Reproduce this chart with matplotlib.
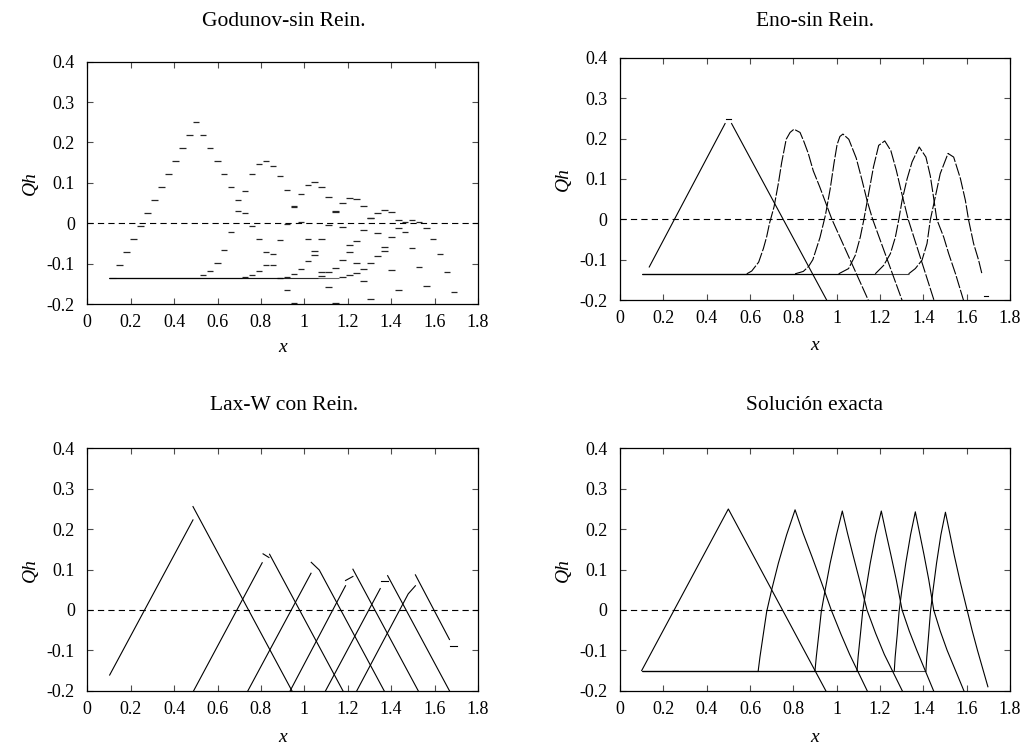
import matplotlib.pyplot as plt
from matplotlib.ticker import FormatStrFormatter

plt.rcParams['font.family'] = ['Liberation Serif', 'DejaVu Serif']
plt.rcParams['axes.unicode_minus'] = False
plt.rcParams['lines.scale_dashes'] = False

# ---------------- data ----------------
x_ticks = [0, 0.2, 0.4, 0.6, 0.8, 1.0, 1.2, 1.4, 1.6, 1.8]
y_ticks = [-0.2, -0.1, 0, 0.1, 0.2, 0.3, 0.4]

# Godunov: cell centres and cell averages (first cell index, values)
cells = [0.117, 0.149, 0.181, 0.213, 0.245, 0.278, 0.310, 0.342, 0.374, 0.406,
         0.438, 0.470, 0.502, 0.534, 0.566, 0.599, 0.631, 0.663, 0.695, 0.727,
         0.759, 0.791, 0.823, 0.855, 0.887, 0.920, 0.952, 0.984, 1.016, 1.048,
         1.080, 1.112, 1.144, 1.176, 1.208, 1.241, 1.273, 1.305, 1.337, 1.369,
         1.401, 1.433, 1.465, 1.497, 1.529, 1.562, 1.594, 1.626, 1.658, 1.690]
god_base = -0.135
god_start = [1, 13, 19, 25, 30, 33]
god_q0 = [-0.102, -0.070, -0.038, -0.006, 0.026, 0.058, 0.091, 0.122, 0.154, 0.186,
          0.219, 0.251, 0.219, 0.186, 0.154, 0.122, 0.091, 0.058, 0.026, -0.006,
          -0.038, -0.070, -0.102, -0.135, -0.166, -0.198]
god_q1 = [-0.129, -0.118, -0.099, -0.066, -0.021, 0.031, 0.081, 0.122, 0.147, 0.154,
          0.142, 0.117, 0.083, 0.043, 0.002, -0.039, -0.078, -0.120, -0.158, -0.198]
god_q2 = [-0.132, -0.129, -0.119, -0.102, -0.077, -0.042, -0.001, 0.040, 0.073, 0.095,
          0.101, 0.091, 0.066, 0.027, -0.009, -0.054, -0.099, -0.144, -0.188]
god_q3 = [-0.132, -0.125, -0.112, -0.094, -0.069, -0.038, -0.003, 0.031, 0.051, 0.062,
          0.059, 0.043, 0.012, -0.024, -0.068, -0.115, -0.164]
god_q4 = [-0.131, -0.121, -0.110, -0.092, -0.070, -0.044, -0.017, 0.012, 0.026, 0.033,
          0.027, 0.008, -0.021, -0.061, -0.107, -0.156]
god_q5 = [-0.132, -0.128, -0.122, -0.113, -0.099, -0.081, -0.059, -0.035, -0.012, 0.002,
          0.009, 0.004, -0.011, -0.039, -0.076, -0.120, -0.170]

# ENO
eno_base = -0.135
eno_feet = [0.585, 0.808, 1.009, 1.178, 1.332]
eno_x0a = [0.135, 0.485]
eno_y0a = [-0.118, 0.237]
eno_x0b = [0.515, 0.960]
eno_y0b = [0.237, -0.206]
eno_x1 = [0.585, 0.608, 0.640, 0.662, 0.677, 0.690, 0.711, 0.731, 0.746, 0.767, 0.785,
          0.803, 0.831, 0.849, 0.869, 0.892, 0.922, 0.950, 0.978, 1.150]
eno_y1 = [-0.135, -0.128, -0.106, -0.072, -0.043, -0.010, 0.031, 0.089, 0.140, 0.198, 0.215,
          0.223, 0.215, 0.192, 0.163, 0.120, 0.080, 0.040, 0.000, -0.205]
eno_x2 = [0.808, 0.846, 0.870, 0.890, 0.923, 0.948, 0.970, 0.988, 1.002, 1.015, 1.029,
          1.056, 1.090, 1.117, 1.140, 1.166, 1.305]
eno_y2 = [-0.135, -0.129, -0.117, -0.100, -0.045, 0.010, 0.075, 0.140, 0.185, 0.205, 0.211,
          0.198, 0.152, 0.097, 0.047, 0.000, -0.205]
eno_x3 = [1.009, 1.055, 1.086, 1.109, 1.125, 1.148, 1.170, 1.194, 1.222,
          1.250, 1.275, 1.300, 1.330, 1.452]
eno_y3 = [-0.135, -0.122, -0.089, -0.044, -0.002, 0.065, 0.130, 0.183, 0.194,
          0.170, 0.122, 0.065, 0.000, -0.205]
eno_x4 = [1.178, 1.217, 1.248, 1.271, 1.287, 1.302, 1.325, 1.348, 1.381,
          1.412, 1.432, 1.447, 1.462, 1.494, 1.517, 1.548, 1.588]
eno_y4 = [-0.135, -0.114, -0.085, -0.044, 0.000, 0.047, 0.100, 0.142, 0.179,
          0.154, 0.108, 0.055, 0.000, -0.044, -0.085, -0.134, -0.205]
eno_x5 = [1.332, 1.363, 1.394, 1.417, 1.432, 1.455, 1.478, 1.514,
          1.540, 1.571, 1.594, 1.609, 1.632, 1.655, 1.670]
eno_y5 = [-0.135, -0.122, -0.101, -0.060, -0.002, 0.055, 0.113, 0.163,
          0.154, 0.101, 0.047, -0.002, -0.060, -0.101, -0.134]
eno_ticks_x = [(0.490, 0.510), (1.678, 1.698)]
eno_ticks_y = [0.249, -0.190]

# Lax-Wendroff with reinitialisation: pieces of each profile
lax_pieces = [
    ([0.103, 0.487], [-0.161, 0.223]),
    ([0.487, 0.953], [0.256, -0.210]),
    ([0.480, 0.806], [-0.210, 0.117]),
    ([0.810, 0.837], [0.139, 0.130]),
    ([0.840, 1.188], [0.138, -0.210]),
    ([0.730, 1.031], [-0.210, 0.091]),
    ([1.032, 1.069, 1.378], [0.118, 0.099, -0.210]),
    ([0.925, 1.190], [-0.210, 0.060]),
    ([1.190, 1.224], [0.073, 0.083]),
    ([1.224, 1.535], [0.101, -0.210]),
    ([1.088, 1.350], [-0.210, 0.053]),
    ([1.352, 1.384], [0.071, 0.071]),
    ([1.384, 1.679], [0.085, -0.210]),
    ([1.232, 1.479, 1.512], [-0.210, 0.040, 0.060]),
    ([1.512, 1.669], [0.087, -0.073]),
    ([1.673, 1.704], [-0.088, -0.088]),
]

# exact solution
ex_base = -0.15
ex_feet = [0.100, 0.638, 0.900, 1.094, 1.266, 1.412]
ex_x0 = [0.100, 0.500, 0.960]
ex_y0 = [-0.150, 0.250, -0.210]
ex_x1 = [0.638, 0.646, 0.662, 0.677, 0.700, 0.731, 0.769, 0.808,
         0.845, 0.886, 0.930, 0.975, 1.020, 1.060, 1.150]
ex_y1 = [-0.150, -0.116, -0.058, -0.004, 0.050, 0.116, 0.186, 0.248,
         0.190, 0.132, 0.068, 0.000, -0.060, -0.110, -0.210]
ex_x2 = [0.900, 0.906, 0.918, 0.929, 0.947, 0.970, 0.999, 1.026,
         1.050, 1.075, 1.105, 1.140, 1.180, 1.220, 1.312]
ex_y2 = [-0.150, -0.116, -0.058, -0.004, 0.050, 0.116, 0.186, 0.245,
         0.190, 0.137, 0.075, 0.000, -0.058, -0.110, -0.210]
ex_x3 = [1.094, 1.099, 1.110, 1.120, 1.135, 1.155, 1.180, 1.206,
         1.228, 1.250, 1.275, 1.302, 1.335, 1.370, 1.455]
ex_y3 = [-0.150, -0.116, -0.058, -0.004, 0.050, 0.116, 0.186, 0.245,
         0.190, 0.137, 0.075, 0.000, -0.052, -0.100, -0.210]
ex_x4 = [1.266, 1.270, 1.280, 1.288, 1.301, 1.319, 1.341, 1.363,
         1.383, 1.403, 1.425, 1.448, 1.478, 1.510, 1.595]
ex_y4 = [-0.150, -0.116, -0.058, -0.004, 0.050, 0.116, 0.186, 0.243,
         0.190, 0.137, 0.075, 0.000, -0.052, -0.100, -0.210]
ex_x5 = [1.412, 1.416, 1.425, 1.433, 1.445, 1.461, 1.481, 1.502,
         1.522, 1.542, 1.570, 1.602, 1.625, 1.650, 1.698]
ex_y5 = [-0.150, -0.116, -0.058, -0.004, 0.050, 0.116, 0.186, 0.242,
         0.190, 0.137, 0.070, 0.000, -0.050, -0.100, -0.190]

titles = ['Godunov-sin Rein.', 'Eno-sin Rein.', 'Lax-W con Rein.', 'Solución exacta']

# ---------------- figure ----------------
W, H = 1031, 749
fig = plt.figure(figsize=(W / 100, H / 100), dpi=100)


def rect(left, top, right, bottom):
    return [left / W, 1 - bottom / H, (right - left) / W, (bottom - top) / H]


boxes = [rect(87.3, 61.7, 477.9, 304.1), rect(620, 57.7, 1010, 300.1),
         rect(87.3, 448.4, 477.9, 690.8), rect(620, 448.4, 1010, 690.8)]
axes = [fig.add_axes(b) for b in boxes]

LW = 0.8
for ax in axes:
    ax.set_xlim(0, 1.8)
    ax.set_ylim(-0.2, 0.4)
    ax.set_xticks(x_ticks)
    ax.set_yticks(y_ticks)
    ax.xaxis.set_major_formatter(FormatStrFormatter('%g'))
    ax.yaxis.set_major_formatter(FormatStrFormatter('%g'))
    ax.tick_params(direction='in', top=True, right=True, length=4.5, width=0.8,
                   labelsize=13, color='0.3')
    ax.tick_params(axis='x', pad=7)
    ax.tick_params(axis='y', pad=9)
    for s in ax.spines.values():
        s.set_linewidth(0.9)
    ax.axhline(0, color='k', lw=LW, dashes=(4.5, 3))

# Godunov
ax = axes[0]
hw = 0.015
for start, q in zip(god_start, [god_q0, god_q1, god_q2, god_q3, god_q4, god_q5]):
    ax.hlines(god_base, 0.101, cells[start] - 0.016, color='k', lw=LW, alpha=0.6)
    xs = cells[start:start + len(q)]
    ax.hlines(q, [c - hw for c in xs], [c + hw for c in xs], color='0.15', lw=0.9)

# ENO
ax = axes[1]
for f in eno_feet:
    ax.hlines(eno_base, 0.1, f, color='k', lw=LW, alpha=0.75)
ax.plot(eno_x0a, eno_y0a, color='k', lw=LW)
ax.plot(eno_x0b, eno_y0b, color='k', lw=LW)
for xs, ys in [(eno_x1, eno_y1), (eno_x2, eno_y2), (eno_x3, eno_y3),
               (eno_x4, eno_y4), (eno_x5, eno_y5)]:
    ax.plot(xs, ys, color='k', lw=LW, dashes=(9, 1.3))
for xs, y in zip(eno_ticks_x, eno_ticks_y):
    ax.plot(xs, [y, y], color='k', lw=LW)

# Lax-Wendroff
ax = axes[2]
for xs, ys in lax_pieces:
    ax.plot(xs, ys, color='k', lw=LW)

# exact
ax = axes[3]
for f in ex_feet:
    ax.hlines(ex_base, 0.1, f, color='k', lw=LW, alpha=0.75)
for xs, ys in [(ex_x0, ex_y0), (ex_x1, ex_y1), (ex_x2, ex_y2), (ex_x3, ex_y3),
               (ex_x4, ex_y4), (ex_x5, ex_y5)]:
    ax.plot(xs, ys, color='k', lw=LW)

# titles and axis labels
title_pos = [(284, 22), (815, 22), (284, 405), (815, 405)]
xlabel_pos = [(283, 348), (815, 346), (283, 738), (815, 738)]
ylabel_pos = [(30, 183), (563, 179), (30, 570), (563, 570)]
for t, (tx, ty), (xx, xy), (yx, yy) in zip(titles, title_pos, xlabel_pos, ylabel_pos):
    fig.text(tx / W, 1 - ty / H, t, ha='center', va='center', fontsize=15.5)
    fig.text(xx / W, 1 - xy / H, 'x', ha='center', va='center', fontsize=14, style='italic')
    fig.text(yx / W, 1 - yy / H, 'Qh', ha='center', va='center', fontsize=14,
             style='italic', rotation=90)

fig.savefig('out.png', dpi=100)
